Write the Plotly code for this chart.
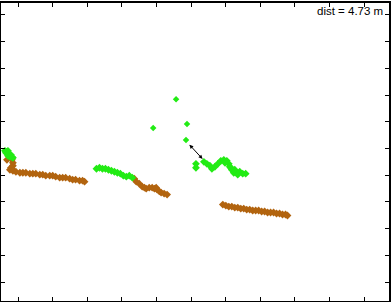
import plotly.graph_objects as go

# Brown segments (x, y in metres)
brown1_x = [-0.325, -0.181, -0.152, -0.152, -0.181, -0.210,
            -0.239, -0.152, -0.066, 0.049, 0.135, 0.221, 0.336, 0.423, 0.509, 0.624, 0.710, 0.797,
            0.912, 0.998, 1.084, 1.199, 1.286, 1.372, 1.487, 1.573, 1.659, 1.774, 1.861, 1.918]
brown1_y = [4.578, 4.578, 4.466, 4.355, 4.243, 4.280,
            4.206, 4.169, 4.131, 4.094, 4.094, 4.094, 4.057, 4.057, 4.057, 4.020, 4.020, 3.983,
            3.983, 3.983, 3.945, 3.908, 3.908, 3.908, 3.871, 3.834, 3.834, 3.796, 3.796, 3.759]
brown2_x = [3.356, 3.414, 3.500, 3.586, 3.650, 3.701, 3.788, 3.874, 3.940, 3.989, 4.018, 4.080,
            4.133, 4.219, 4.305]
brown2_y = [3.871, 3.759, 3.685, 3.573, 3.536, 3.499, 3.536, 3.536, 3.499, 3.536, 3.461, 3.400,
            3.350, 3.313, 3.275]
brown3_x = [5.916, 6.002, 6.088, 6.175, 6.261, 6.347, 6.434, 6.520, 6.606, 6.693, 6.779, 6.865,
            6.951, 7.038, 7.124, 7.210, 7.296, 7.383, 7.469, 7.555, 7.642, 7.728, 7.785]
brown3_y = [2.903, 2.866, 2.829, 2.829, 2.792, 2.792, 2.754, 2.754, 2.717, 2.717, 2.680, 2.680,
            2.680, 2.643, 2.643, 2.605, 2.605, 2.605, 2.568, 2.568, 2.531, 2.531, 2.494]

# Green segments
green1_x = [-0.383, -0.296, -0.354, -0.267, -0.210, -0.296, -0.181, -0.152, -0.239, -0.325]
green1_y = [4.913, 4.913, 4.839, 4.801, 4.764, 4.727, 4.690, 4.653, 4.690, 4.876]
green2_x = [2.263, 2.350, 2.436, 2.522, 2.609, 2.695, 2.781, 2.867, 2.954, 3.040, 3.126, 3.212, 3.299]
green2_y = [4.243, 4.280, 4.243, 4.243, 4.206, 4.169, 4.131, 4.094, 4.057, 3.983, 3.945, 3.983, 3.908]
green_scatter_x = [4.564, 3.903, 4.881, 4.852]
green_scatter_y = [6.848, 5.769, 5.918, 5.322]
green3_x = [5.139, 5.139, 5.369, 5.456, 5.542, 5.600, 5.686, 5.772, 5.858, 5.945, 6.031, 6.088,
            6.117, 6.175, 6.232, 6.319, 6.405, 6.491, 6.577, 6.261, 6.347, 5.980, 6.146]
green3_y = [4.429, 4.280, 4.504, 4.429, 4.355, 4.243, 4.318, 4.429, 4.541, 4.578, 4.541, 4.429,
            4.318, 4.206, 4.094, 4.094, 4.131, 4.057, 4.057, 4.206, 4.020, 4.466, 4.280]

# Distance arrow endpoints
arrow_start = (4.910, 5.200)
arrow_end = (5.330, 4.610)
dist_label = "dist = 4.73 m"

brown = "#B2640F"
green = "#22EB14"

fig = go.Figure()
for xs, ys in [(brown1_x, brown1_y), (brown2_x, brown2_y), (brown3_x, brown3_y)]:
    fig.add_trace(go.Scatter(x=xs, y=ys, mode="markers",
                             marker=dict(symbol="diamond", size=6, color=brown, line=dict(width=0))))
for xs, ys, sz in [(green1_x, green1_y, 6), (green2_x, green2_y, 6),
                   (green_scatter_x, green_scatter_y, 5), (green3_x, green3_y, 6)]:
    fig.add_trace(go.Scatter(x=xs, y=ys, mode="markers",
                             marker=dict(symbol="diamond", size=sz, color=green, line=dict(width=0))))

fig.add_annotation(x=arrow_end[0], y=arrow_end[1], ax=arrow_start[0], ay=arrow_start[1],
                   xref="x", yref="y", axref="x", ayref="y", text="", showarrow=True,
                   arrowside="end+start", arrowhead=2, startarrowhead=2,
                   arrowsize=0.8, startarrowsize=0.8, arrowwidth=1, arrowcolor="black",
                   standoff=0, startstandoff=0)
fig.add_annotation(x=0.99, y=1.0, xref="paper", yref="paper", xanchor="right", yanchor="top",
                   text=dist_label, showarrow=False,
                   font=dict(family="Liberation Sans, Arial", size=11.5, color="black"))

axis_common = dict(showline=True, linecolor="black", linewidth=2, mirror="ticks",
                   ticks="inside", ticklen=4, tickwidth=1, tickcolor="black",
                   showticklabels=False, showgrid=False, zeroline=False,
                   tick0=0, dtick=1)
fig.update_xaxes(range=[-0.497, 10.72], **axis_common)
fig.update_yaxes(range=[-0.706, 10.446], **axis_common)
fig.update_layout(width=392, height=302, margin=dict(l=1, r=1, t=1, b=1),
                  paper_bgcolor="white", plot_bgcolor="white", showlegend=False)

fig.write_html("out.html")
